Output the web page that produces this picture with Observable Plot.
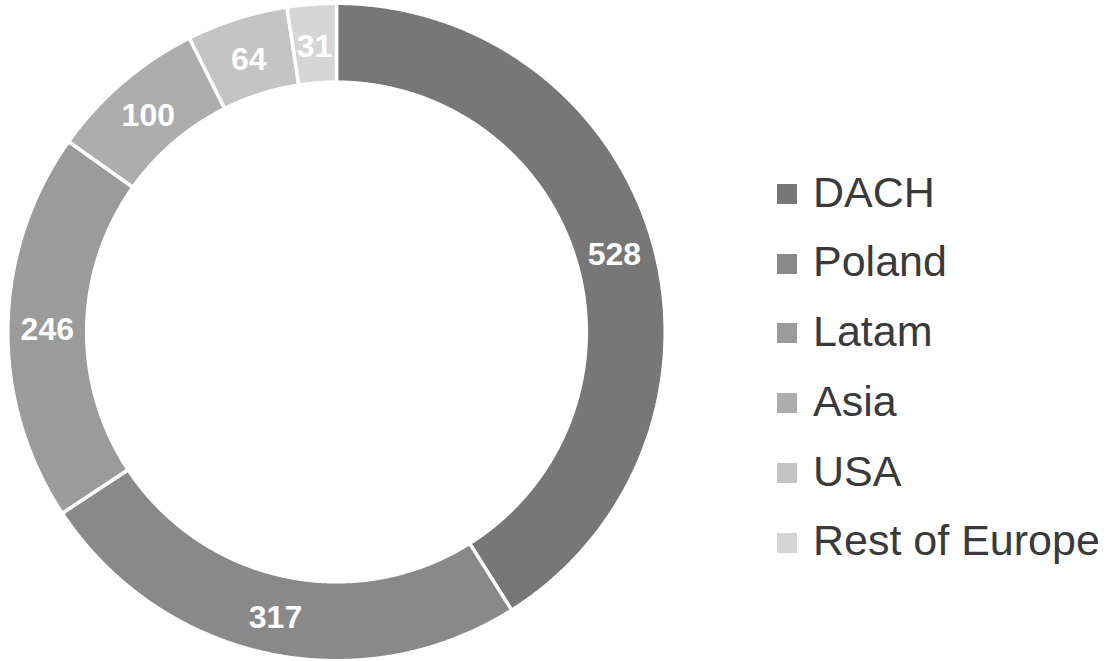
<!DOCTYPE html>
<html><head><meta charset="utf-8">
<script src="https://cdn.jsdelivr.net/npm/d3@7"></script>
<script src="https://cdn.jsdelivr.net/npm/@observablehq/plot@0.6"></script>
<style>
body{margin:0;background:#fff;}
#wrap{position:relative;width:1111px;height:661px;overflow:hidden;font-family:"Liberation Sans",Arial,sans-serif;}
#chart{position:absolute;left:0;top:0;}
.row{position:absolute;left:777px;width:334px;height:20px;}
.sw{position:absolute;left:0;top:0;width:20px;height:20px;}
.lb{position:absolute;left:36px;font-size:43px;line-height:43px;color:#3a3a3a;white-space:nowrap;}
</style></head><body><div id="wrap"><div id="chart"></div><div id="legend"></div></div>
<script>
const regions = ["DACH", "Poland", "Latam", "Asia", "USA", "Rest of Europe"];
const values = [528, 317, 246, 100, 64, 31];
const colors = ["#777777", "#898989", "#9b9b9b", "#adadad", "#c4c4c4", "#d6d6d6"];

const innerRatio = 0.76;
const unit = 328.7;       // pixels per unit radius
const W = 672, H = 661, cx = 336, cy = 331.5;

const pie = d3.pie().sort(null).value((d, i) => values[i])(regions);

const ring = [];
const labels = [];
pie.forEach((a, k) => {
  const name = regions[k];
  const a0 = a.startAngle, a1 = a.endAngle;
  const n = Math.max(2, Math.ceil((a1 - a0) / 0.004));
  const pts = [];
  for (let i = 0; i <= n; i++) { const t = a0 + (a1 - a0) * i / n; pts.push({region: name, x: Math.sin(t), y: Math.cos(t)}); }
  for (let i = n; i >= 0; i--) { const t = a0 + (a1 - a0) * i / n; pts.push({region: name, x: innerRatio * Math.sin(t), y: innerRatio * Math.cos(t)}); }
  pts.push({...pts[0]});
  ring.push(...pts);
  const m = (a0 + a1) / 2, r = (1 + innerRatio) / 2;
  labels.push({region: name, value: values[k], x: r * Math.sin(m), y: r * Math.cos(m)});
});

const chart = Plot.plot({
  width: W, height: H, margin: 0,
  style: {fontFamily: "'Liberation Sans', Arial, sans-serif", background: "transparent"},
  x: {domain: [-cx / unit, (W - cx) / unit], axis: null},
  y: {domain: [-(H - cy) / unit, cy / unit], axis: null},
  color: {domain: regions, range: colors},
  marks: [
    Plot.line(ring, {x: "x", y: "y", z: "region", fill: "region", stroke: "white", strokeWidth: 3.5, strokeLinejoin: "miter", curve: "linear"}),
    Plot.text(labels, {x: "x", y: "y", dy: 3, text: d => String(d.value), fill: "white", fontSize: 32, fontWeight: "bold"})
  ]
});
document.getElementById("chart").appendChild(chart);

const legend = document.getElementById("legend");
const top0 = 184, step = 69.7;
regions.forEach((name, i) => {
  const row = document.createElement("div");
  row.className = "row";
  row.style.top = (top0 + i * step) + "px";
  const sw = document.createElement("div");
  sw.className = "sw";
  sw.style.background = colors[i];
  const lb = document.createElement("div");
  lb.className = "lb";
  lb.style.top = (23 - 36.3) + "px";
  lb.textContent = name;
  row.appendChild(sw); row.appendChild(lb);
  legend.appendChild(row);
});
</script></body></html>
